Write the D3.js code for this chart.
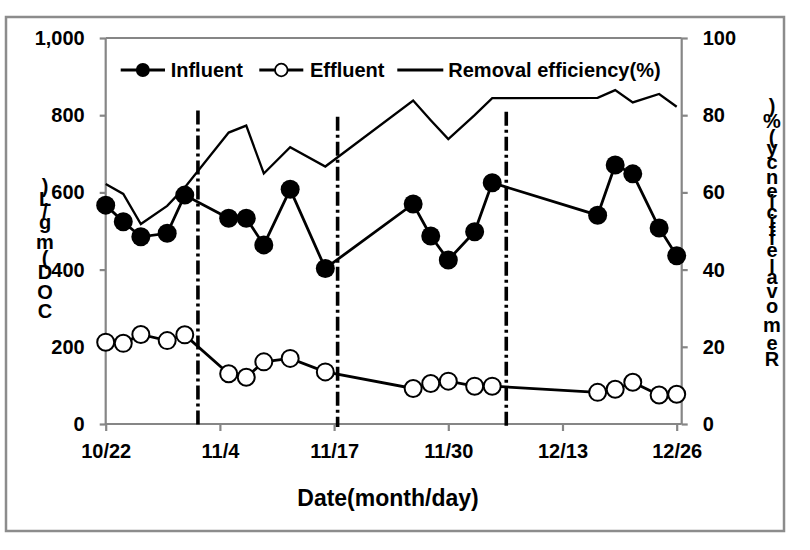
<!DOCTYPE html>
<html>
<head>
<meta charset="utf-8">
<script src="https://cdn.jsdelivr.net/npm/d3@7"></script>
<style>
  html, body { margin: 0; padding: 0; background: #fff; }
  svg text { font-family: "Liberation Sans", Arial, sans-serif; font-weight: bold; fill: #000; }
</style>
</head>
<body>
<svg id="chart" width="810" height="550"></svg>
<script>
// ---------------- data ----------------
const dates = ["10/22","10/24","10/26","10/29","10/31","11/5","11/7","11/9","11/12","11/16",
               "11/26","11/28","11/30","12/3","12/5","12/17","12/19","12/21","12/24","12/26"];
const influent   = [567,524,485,494,593,533,533,464,608,403,570,487,425,498,625,541,671,648,508,436];
const effluent   = [212,209,232,216,231,130,121,161,170,135, 92,105,111, 98, 98, 82, 90,108, 75, 77];
const efficiency = [62.2,59.6,51.8,56.5,61.3,75.5,77.3,64.9,71.7,66.7,83.8,78.7,73.8,80.0,84.4,84.5,86.5,83.3,85.5,82.2];
const xTickLabels = ["10/22","11/4","11/17","11/30","12/13","12/26"];
const leftTicks  = [0,200,400,600,800,1000];
const rightTicks = [0,20,40,60,80,100];
// phase boundaries: day offset from 10/22, and top value (left axis units)
const phaseDay = [10.5, 26.4, 45.6];
const phaseTop = [812, 796, 809];
const seriesNames = ["Influent","Effluent","Removal efficiency(%)"];
const xTitle = "Date(month/day)";
const leftTitle = "COD(mg/L)";
const rightTitle = "Removal efficiency(%)";

// ---------------- helpers ----------------
const YEAR = 2000;
const parse = s => { const [m,d] = s.split("/").map(Number); return new Date(Date.UTC(YEAR, m-1, d)); };
const DAY = 86400000;
const start = parse(dates[0]);

const svg = d3.select("#chart");
const gray = "#868686";

// layout
const L = 105.7, T = 38, B = 424, Rax = 681.7;
const x = d3.scaleUtc()
  .domain([start, new Date(parse("12/26").getTime() + 0.57*DAY)])
  .range([L, Rax]);
const yL = d3.scaleLinear().domain([0,1000]).range([B, T]);
const yR = d3.scaleLinear().domain([0,100]).range([B, T]);

// outer border
svg.append("rect").attr("x",6).attr("y",17).attr("width",778).attr("height",514)
  .attr("fill","none").attr("stroke","#8c8c8c").attr("stroke-width",2.5);

// plot frame (top line)
svg.append("line").attr("x1",L).attr("x2",Rax).attr("y1",T).attr("y2",T)
  .attr("stroke",gray).attr("stroke-width",2.2);

// axes
const axL = svg.append("g").attr("transform",`translate(${L},0)`)
  .call(d3.axisLeft(yL).tickValues(leftTicks).tickSize(6).tickPadding(15).tickFormat(d3.format(",")));
const axR = svg.append("g").attr("transform",`translate(${Rax},0)`)
  .call(d3.axisRight(yR).tickValues(rightTicks).tickSize(6).tickPadding(15));
const axB = svg.append("g").attr("transform",`translate(0,${B})`)
  .call(d3.axisBottom(x).tickValues(xTickLabels.map(parse)).tickSize(7).tickPadding(13)
    .tickFormat(d => (d.getUTCMonth()+1) + "/" + d.getUTCDate()));

[axL, axR, axB].forEach(a => {
  a.selectAll(".domain").attr("stroke",gray).attr("stroke-width",2.2);
  a.selectAll(".tick line").attr("stroke",gray).attr("stroke-width",2.2);
  a.selectAll(".tick text").attr("font-size",20).attr("font-family",null).attr("fill","#000");
});
axB.select(".domain").attr("d", `M${L},0H${Rax}`);
axL.select(".domain").attr("d", `M0,${T}V${B}`);
axR.select(".domain").attr("d", `M0,${T}V${B}`);

// x title
svg.append("text").attr("x",388).attr("y",506).attr("text-anchor","middle")
  .attr("font-size",23).text(xTitle);

// stacked (vertical, reversed) axis titles
function stackedTitle(str, cx, top, bottom, fs) {
  const chars = Array.from(str).reverse();
  const g = svg.append("g");
  const widths = chars.map(c => {
    const t = g.append("text").attr("font-size",fs).text(c === " " ? "\u00a0" : c);
    const w = t.node().getComputedTextLength(); t.remove(); return w;
  });
  const k = (bottom - top) / d3.sum(widths);
  let y = top;
  chars.forEach((c,i) => {
    const h = widths[i]*k;
    if (c !== " ") g.append("text").attr("x",cx).attr("y",y + h/2)
      .attr("text-anchor","middle").attr("dominant-baseline","central")
      .attr("font-size",fs).text(c);
    y += h;
  });
}
stackedTitle(leftTitle, 45, 182, 321, 20);
stackedTitle(rightTitle, 772, 102, 368, 20);

// data rows
const rows = dates.map((d,i) => ({date: parse(d), inf: influent[i], eff: effluent[i], re: efficiency[i]}));

// efficiency line
svg.append("path").datum(rows)
  .attr("fill","none").attr("stroke","#000").attr("stroke-width",2.3)
  .attr("d", d3.line().x(d => x(d.date)).y(d => yR(d.re)));

// influent / effluent lines
svg.append("path").datum(rows)
  .attr("fill","none").attr("stroke","#000").attr("stroke-width",2.8)
  .attr("d", d3.line().x(d => x(d.date)).y(d => yL(d.inf)));
svg.append("path").datum(rows)
  .attr("fill","none").attr("stroke","#000").attr("stroke-width",2.8)
  .attr("d", d3.line().x(d => x(d.date)).y(d => yL(d.eff)));

// phase boundary dash-dot lines
phaseDay.forEach((pd,i) => {
  const xd = x(new Date(start.getTime() + pd*DAY));
  svg.append("line").attr("x1",xd).attr("x2",xd).attr("y1",yL(phaseTop[i])).attr("y2",B+3)
    .attr("stroke","#000").attr("stroke-width",3.6).attr("stroke-dasharray","14,4,3,4");
});

// markers
svg.append("g").selectAll("circle").data(rows).join("circle")
  .attr("cx", d => x(d.date)).attr("cy", d => yL(d.inf)).attr("r",9.5).attr("fill","#000");
svg.append("g").selectAll("circle").data(rows).join("circle")
  .attr("cx", d => x(d.date)).attr("cy", d => yL(d.eff)).attr("r",8.5)
  .attr("fill","#fff").attr("stroke","#000").attr("stroke-width",2);

// legend
const legY = 70;
const leg = svg.append("g");
const legItems = [
  {name: seriesNames[0], x1: 120.7, x2: 165, tx: 170.7, marker: "filled"},
  {name: seriesNames[1], x1: 259.3, x2: 303.3, tx: 310, marker: "open"},
  {name: seriesNames[2], x1: 397.3, x2: 443.3, tx: 448.3, marker: null}
];
legItems.forEach(it => {
  leg.append("line").attr("x1",it.x1).attr("x2",it.x2).attr("y1",legY).attr("y2",legY)
    .attr("stroke","#000").attr("stroke-width",2.8);
  const cx = (it.x1 + it.x2)/2;
  if (it.marker === "filled") leg.append("circle").attr("cx",cx).attr("cy",legY).attr("r",7).attr("fill","#000");
  if (it.marker === "open") leg.append("circle").attr("cx",cx).attr("cy",legY).attr("r",6.3)
    .attr("fill","#fff").attr("stroke","#000").attr("stroke-width",1.8);
  leg.append("text").attr("x",it.tx).attr("y",legY).attr("dominant-baseline","central")
    .attr("font-size",20).text(it.name);
});
</script>
</body>
</html>
